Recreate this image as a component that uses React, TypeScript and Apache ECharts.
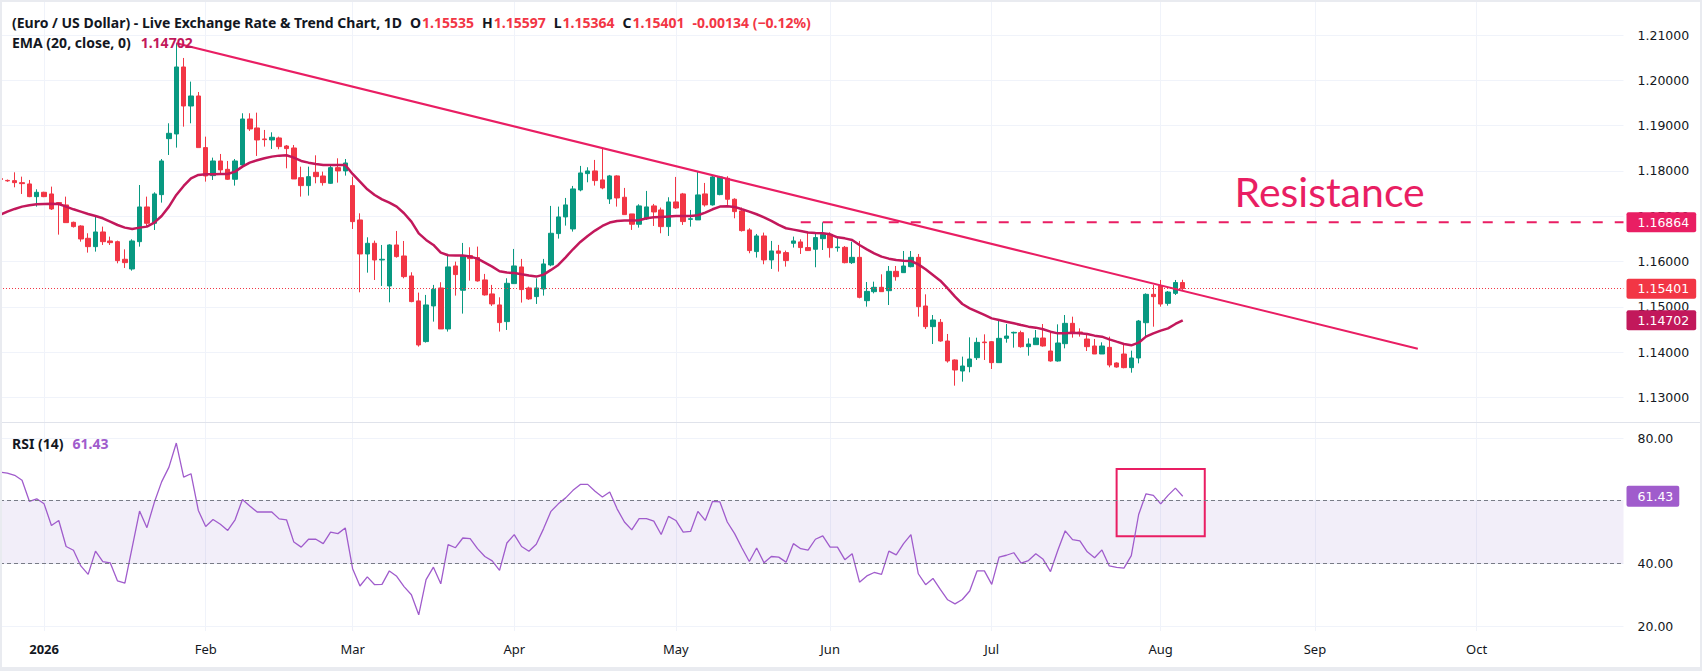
import React, { useEffect, useRef } from "react";
import * as echarts from "echarts";

// ---- data (index 0 = 2025-12-24, one slot per weekday) ----
const OPEN = [
  1.1783, 1.1779, 1.17785, 1.17741, 1.17712, 1.17432, 1.17528, 1.17491, 1.173, 1.17248,
  1.16865, 1.16784, 1.16512, 1.16328, 1.16652, 1.16453, 1.16438, 1.16049, 1.15835, 1.16438,
  1.17204, 1.16843, 1.17476, 1.18712, 1.18815, 1.20294, 1.19433, 1.19654, 1.18514, 1.17896,
  1.18219, 1.18035, 1.17815, 1.18131, 1.19146, 1.18948, 1.18705, 1.18683, 1.18727, 1.1855,
  1.18506, 1.17851, 1.17675, 1.17969, 1.17888, 1.17726, 1.18072, 1.17999, 1.17675, 1.16917,
  1.16166, 1.16402, 1.16034, 1.1546, 1.16365, 1.16122, 1.15681, 1.1513, 1.14232, 1.15019,
  1.15416, 1.14511, 1.15902, 1.15365, 1.1613, 1.16086, 1.15593, 1.15284, 1.15041, 1.14673,
  1.15512, 1.1588, 1.15416, 1.15225, 1.15394, 1.15924, 1.16616, 1.16984, 1.16719, 1.1758,
  1.1794, 1.17999, 1.17801, 1.17381, 1.17889, 1.17418, 1.1705, 1.16822, 1.1694, 1.17227,
  1.17138, 1.1677, 1.17315, 1.17492, 1.1693, 1.16918, 1.17492, 1.17249, 1.17477, 1.17837,
  1.17374, 1.17116, 1.16697, 1.16219, 1.16564, 1.16035, 1.16233, 1.16196, 1.16402, 1.16432,
  1.16307, 1.1627, 1.16504, 1.166, 1.16305, 1.16313, 1.15974, 1.16092, 1.15135, 1.15334,
  1.1543, 1.15356, 1.15783, 1.15754, 1.15886, 1.16092, 1.15018, 1.14562, 1.14657, 1.14245,
  1.13826, 1.13583, 1.13679, 1.13877, 1.14222, 1.1423, 1.13767, 1.14304, 1.14422, 1.14429,
  1.1412, 1.14164, 1.14311, 1.14024, 1.13804, 1.14186, 1.14635, 1.14444, 1.14289, 1.14135,
  1.13958, 1.14105, 1.1376, 1.13958, 1.13657, 1.1387, 1.14649, 1.15275, 1.15466, 1.15076,
  1.15297, 1.15535,
];
const HIGH = [
  1.1786, 1.1781, 1.17969, 1.17873, 1.178, 1.17594, 1.1754, 1.17653, 1.1731, 1.17432,
  1.1688, 1.168, 1.16623, 1.1699, 1.1677, 1.16549, 1.16461, 1.16269, 1.1649, 1.17689,
  1.17432, 1.17528, 1.18263, 1.19051, 1.20817, 1.20493, 1.19971, 1.19742, 1.18756, 1.18293,
  1.18374, 1.18219, 1.18263, 1.19272, 1.19272, 1.19286, 1.18904, 1.18852, 1.18756, 1.18572,
  1.18572, 1.18094, 1.18094, 1.18344, 1.17984, 1.18146, 1.18278, 1.18263, 1.17873, 1.17064,
  1.16534, 1.16461, 1.16365, 1.1638, 1.16674, 1.16453, 1.15762, 1.15313, 1.15262, 1.15483,
  1.15542, 1.16167, 1.15998, 1.1641, 1.16314, 1.16329, 1.15726, 1.15483, 1.1521, 1.1563,
  1.16277, 1.16057, 1.15446, 1.1563, 1.16057, 1.17227, 1.17212, 1.17403, 1.17668, 1.1811,
  1.1808, 1.18242, 1.18492, 1.17911, 1.17904, 1.17624, 1.1705, 1.17263, 1.17558, 1.17271,
  1.1719, 1.17418, 1.17867, 1.17514, 1.17138, 1.17985, 1.17734, 1.17911, 1.17889, 1.17882,
  1.17396, 1.1719, 1.16734, 1.16608, 1.16638, 1.16454, 1.16366, 1.16241, 1.1655, 1.16491,
  1.16638, 1.16624, 1.16864, 1.16644, 1.16563, 1.16342, 1.16438, 1.16453, 1.15547, 1.15555,
  1.15717, 1.15901, 1.15901, 1.16232, 1.16232, 1.16166, 1.15275, 1.14819, 1.14731, 1.144,
  1.1384, 1.139, 1.14326, 1.14318, 1.14392, 1.14245, 1.14723, 1.1462, 1.14451, 1.14473,
  1.14304, 1.14488, 1.1462, 1.14451, 1.14613, 1.14819, 1.14782, 1.14525, 1.14392, 1.14289,
  1.14216, 1.14341, 1.13774, 1.14171, 1.14032, 1.14709, 1.15297, 1.15481, 1.15592, 1.15348,
  1.15592, 1.15597,
];
const LOW = [
  1.1779, 1.1776, 1.17638, 1.17491, 1.1742, 1.17211, 1.1742, 1.17138, 1.16593, 1.16858,
  1.1675, 1.16438, 1.16196, 1.16218, 1.16365, 1.16365, 1.1596, 1.15857, 1.15798, 1.16328,
  1.1677, 1.16696, 1.173, 1.18352, 1.18514, 1.18977, 1.19051, 1.18514, 1.17763, 1.178,
  1.17947, 1.178, 1.17675, 1.18094, 1.18882, 1.1833, 1.18536, 1.18484, 1.18477, 1.18057,
  1.17822, 1.17432, 1.17454, 1.17726, 1.17675, 1.17712, 1.17741, 1.17896, 1.16718, 1.1532,
  1.15754, 1.15592, 1.1546, 1.15099, 1.16085, 1.15629, 1.151, 1.14121, 1.1421, 1.14673,
  1.14511, 1.14453, 1.15247, 1.1485, 1.15578, 1.15556, 1.15247, 1.15019, 1.14453, 1.14489,
  1.15512, 1.15093, 1.15152, 1.15063, 1.15247, 1.15895, 1.16505, 1.16792, 1.1666, 1.1755,
  1.17749, 1.17675, 1.17595, 1.17271, 1.17212, 1.17035, 1.16697, 1.16748, 1.16918, 1.16785,
  1.16623, 1.16564, 1.1716, 1.16807, 1.1677, 1.16918, 1.17212, 1.17234, 1.17462, 1.17249,
  1.16954, 1.1666, 1.16182, 1.16086, 1.15939, 1.15836, 1.15777, 1.15887, 1.16307, 1.16167,
  1.16233, 1.15873, 1.16254, 1.16085, 1.16217, 1.15959, 1.15945, 1.15187, 1.15003, 1.15297,
  1.15327, 1.1504, 1.15577, 1.15754, 1.15871, 1.14783, 1.1451, 1.14179, 1.1423, 1.13767,
  1.13259, 1.13348, 1.13554, 1.13826, 1.13826, 1.13627, 1.13767, 1.14208, 1.14098, 1.14098,
  1.13921, 1.14164, 1.1412, 1.13789, 1.13789, 1.14083, 1.14318, 1.14341, 1.14024, 1.13958,
  1.13958, 1.13664, 1.13657, 1.13642, 1.13546, 1.13752, 1.1434, 1.14561, 1.15003, 1.15025,
  1.1526, 1.15364,
];
const CLOSE = [
  1.1781, 1.1778, 1.17741, 1.17719, 1.17432, 1.17528, 1.17432, 1.1716, 1.17277, 1.16858,
  1.1677, 1.16497, 1.16328, 1.16652, 1.16438, 1.16416, 1.16019, 1.15975, 1.16453, 1.17204,
  1.16843, 1.17491, 1.18219, 1.1883, 1.20294, 1.19433, 1.19654, 1.18514, 1.17888, 1.18219,
  1.18021, 1.17815, 1.18219, 1.19146, 1.18926, 1.18683, 1.1869, 1.18742, 1.18536, 1.18492,
  1.17822, 1.17675, 1.17873, 1.17873, 1.17741, 1.18072, 1.17999, 1.18175, 1.1688, 1.16166,
  1.16402, 1.16034, 1.16049, 1.16365, 1.16108, 1.15666, 1.15115, 1.14158, 1.15041, 1.15387,
  1.14511, 1.1588, 1.15711, 1.1613, 1.16064, 1.15571, 1.15262, 1.15063, 1.14651, 1.15519,
  1.15902, 1.1538, 1.15174, 1.15416, 1.15946, 1.16623, 1.16984, 1.17249, 1.17602, 1.17955,
  1.17999, 1.17786, 1.17624, 1.17889, 1.17403, 1.17035, 1.16822, 1.17227, 1.17205, 1.17094,
  1.1677, 1.17315, 1.17182, 1.16881, 1.16944, 1.1747, 1.17249, 1.17867, 1.17867, 1.17374,
  1.17101, 1.16682, 1.16241, 1.16564, 1.16035, 1.16233, 1.16182, 1.1602, 1.16454, 1.16307,
  1.16241, 1.16528, 1.166, 1.16305, 1.1632, 1.15974, 1.16092, 1.15209, 1.15341, 1.1543,
  1.15334, 1.15783, 1.15665, 1.15901, 1.16092, 1.15003, 1.14562, 1.14709, 1.14245, 1.13804,
  1.13605, 1.13693, 1.13848, 1.14215, 1.14208, 1.13767, 1.14304, 1.14355, 1.14436, 1.1412,
  1.14179, 1.14311, 1.14135, 1.13804, 1.14201, 1.14635, 1.14414, 1.14429, 1.1412, 1.13958,
  1.14135, 1.13715, 1.13671, 1.13657, 1.1387, 1.14686, 1.15275, 1.15224, 1.15061, 1.15326,
  1.15535, 1.15401,
];
const EMA20 = [
  1.17027, 1.171, 1.1716, 1.17211, 1.17241, 1.17263, 1.1727, 1.17277, 1.1727, 1.17211,
  1.17152, 1.17101, 1.17049, 1.17005, 1.16954, 1.1688, 1.16806, 1.16748, 1.16718, 1.16748,
  1.1677, 1.16858, 1.17005, 1.17211, 1.17469, 1.17667, 1.17837, 1.1791, 1.17925, 1.17928,
  1.17932, 1.17932, 1.17984, 1.18094, 1.18182, 1.18234, 1.18278, 1.18315, 1.18337, 1.18344,
  1.18293, 1.18219, 1.18182, 1.18153, 1.18131, 1.18131, 1.18131, 1.18131, 1.17932, 1.17763,
  1.17594, 1.17469, 1.17373, 1.173, 1.17211, 1.17065, 1.16881, 1.1662, 1.16476, 1.16366,
  1.16196, 1.16138, 1.1613, 1.1613, 1.16108, 1.16064, 1.15976, 1.15887, 1.15784, 1.15755,
  1.15748, 1.15718, 1.15689, 1.15667, 1.15711, 1.15814, 1.15924, 1.16093, 1.1627, 1.16432,
  1.16564, 1.16682, 1.16785, 1.16859, 1.16896, 1.16903, 1.16903, 1.1691, 1.16954, 1.16976,
  1.16984, 1.16991, 1.17006, 1.17006, 1.17006, 1.17021, 1.17079, 1.17153, 1.17212, 1.17219,
  1.17205, 1.17153, 1.17102, 1.17043, 1.16976, 1.16896, 1.16807, 1.16734, 1.16704, 1.16674,
  1.16641, 1.1663, 1.16622, 1.166, 1.16533, 1.16511, 1.16475, 1.16364, 1.16269, 1.1618,
  1.16107, 1.16063, 1.16033, 1.16018, 1.16011, 1.15937, 1.15827, 1.15702, 1.15577, 1.15408,
  1.15224, 1.15062, 1.14966, 1.14893, 1.1482, 1.14745, 1.14709, 1.14672, 1.14635, 1.14598,
  1.14562, 1.1454, 1.14503, 1.14451, 1.14414, 1.14414, 1.14429, 1.14414, 1.144, 1.14363,
  1.14341, 1.14282, 1.1423, 1.14179, 1.14149, 1.14208, 1.14341, 1.14414, 1.14473, 1.14525,
  1.14621, 1.14702,
];
const RSI14 = [
  69.1, 68.8, 68.1, 66.5, 59.8, 60.6, 59.0, 52.1, 53.7, 45.4,
  44.2, 39.2, 36.5, 43.9, 40.6, 40.2, 34.4, 33.7, 45.2, 56.7,
  51.4, 59.4, 66.0, 70.7, 78.4, 67.5, 68.6, 56.9, 51.8, 54.0,
  52.5, 50.5, 53.9, 60.4, 58.3, 56.4, 56.4, 56.4, 54.2, 53.9,
  46.8, 45.2, 47.7, 47.7, 46.3, 50.0, 49.5, 51.3, 38.3, 32.8,
  35.7, 33.2, 33.3, 37.6, 35.9, 32.6, 30.0, 23.6, 34.8, 38.8,
  33.5, 46.0, 45.0, 48.1, 47.9, 44.7, 42.2, 40.8, 37.8, 46.5,
  49.2, 45.4, 43.9, 46.1, 51.1, 56.6, 59.0, 60.9, 63.3, 65.2,
  65.2, 63.0, 61.2, 62.8, 57.4, 53.2, 50.7, 54.3, 54.3, 53.5,
  49.2, 55.0, 53.7, 50.0, 50.2, 56.6, 53.7, 59.8, 59.6, 53.2,
  49.5, 44.9, 40.6, 44.9, 40.2, 42.2, 42.0, 40.4, 46.3, 44.7,
  44.2, 47.7, 48.8, 45.2, 45.2, 41.2, 43.1, 34.0, 36.0, 37.1,
  36.5, 43.9, 42.7, 46.3, 49.2, 36.7, 33.2, 35.2, 31.7, 28.4,
  27.1, 28.5, 31.2, 37.6, 37.6, 33.3, 42.0, 42.6, 43.4, 40.1,
  40.9, 43.1, 41.3, 37.4, 44.2, 50.4, 47.6, 47.2, 43.7, 41.8,
  44.3, 39.2, 38.7, 38.5, 42.5, 55.6, 62.2, 61.7, 59.0, 61.7,
  64.0, 61.43,
];

// axis / annotation values
const TOTAL_SLOTS = 222; // weekdays shown on the time axis (through late Oct)
const PRICE_MIN = 1.13;
const PRICE_MAX = 1.21;
const PRICE_STEP = 0.01;
const RSI_MIN = 20;
const RSI_MAX = 80;
const RSI_STEP = 20;
const RSI_BAND = [40, 60];
const TREND_LINE = [
  [24, 1.20817],
  [193, 1.14075],
];
const RESISTANCE_LEVEL = 1.16864;
const RESISTANCE_FROM = 109;
const RESISTANCE_TEXT_AT = [181, 1.17556];
const RSI_BOX = [
  [152, 70.1],
  [164, 48.7],
];
const MONTH_NAMES = ["Jan", "Feb", "Mar", "Apr", "May", "Jun", "Jul", "Aug", "Sep", "Oct", "Nov", "Dec"];

function buildDates(): string[] {
  const out: string[] = [];
  let t = Date.UTC(2025, 11, 24);
  while (out.length < TOTAL_SLOTS) {
    const d = new Date(t);
    const wd = d.getUTCDay();
    if (wd !== 0 && wd !== 6) out.push(d.toISOString().slice(0, 10));
    t += 86400000;
  }
  return out;
}

const TXT = "#131722";
const GRID_COLOR = "#f0f3fa";
const RED = "#f23645";
const GREEN = "#089981";
const PINK = "#e91e63";
const EMA_COLOR = "#c2185b";
const RSI_COLOR = "#a05ccc";
const AXIS_FONT = "DejaVu Sans";
const UI_FONT = "Noto Sans";
const CLEAR = "rgba(0,0,0,0)";

export default function App() {
  const ref = useRef<HTMLDivElement>(null);

  useEffect(() => {
    if (!ref.current) return;
    const chart = echarts.init(ref.current, null, { renderer: "svg" });

    const dates = buildDates();
    const lastSlot = TOTAL_SLOTS - 1;
    const monthStart = new Set<number>();
    for (let i = 1; i < dates.length; i++) {
      if (dates[i].slice(0, 7) !== dates[i - 1].slice(0, 7)) monthStart.add(i);
    }
    const isMonth = (i: number) => monthStart.has(i);

    const candles = OPEN.map((o, i) => [o, CLOSE[i], LOW[i], HIGH[i]]);
    const n = CLOSE.length;
    const lastClose = CLOSE[n - 1];
    const prevClose = CLOSE[n - 2];
    const chg = lastClose - prevClose;
    const pct = (chg / prevClose) * 100;
    const fmt5 = (v: number) => v.toFixed(5);
    const chgText = `${chg.toFixed(5)} (${pct.toFixed(2).replace("-", "\u2212")}%)`;
    const emaLast = EMA20[EMA20.length - 1];
    const rsiLast = RSI14[RSI14.length - 1];

    const box = (bg: string, text: string, padding: number[]) => ({
      show: true,
      position: "end",
      distance: 3,
      formatter: text,
      color: "#ffffff",
      backgroundColor: bg,
      padding,
      borderRadius: 2,
      fontFamily: AXIS_FONT,
      fontSize: 12.5,
    });

    // a horizontal segment between two category slots, drawn through the axes
    const hSeg = (from: number, to: number, v: number, lineStyle: any, label: any) => [
      { coord: [from, v], lineStyle, label },
      { coord: [to, v] },
    ];

    const gridLeft = 0;
    const gridWidth = 1623.5;

    const xAxes = [0, 1, 2, 3].map((g) => ({
      type: "category",
      gridIndex: g,
      data: dates,
      boundaryGap: false,
      axisLine: { show: false },
      axisTick: { show: false },
      axisLabel: {
        show: g === 2,
        interval: (i: number) => isMonth(i),
        margin: 11,
        color: TXT,
        fontFamily: UI_FONT,
        fontSize: 13,
        formatter: (v: string) => {
          const m = parseInt(v.slice(5, 7), 10) - 1;
          return m === 0 ? `{b|${v.slice(0, 4)}}` : MONTH_NAMES[m];
        },
        rich: { b: { fontWeight: "bold", fontFamily: UI_FONT, fontSize: 13, color: TXT } },
      },
      splitLine: {
        show: g === 0 || g === 2,
        interval: (i: number) => isMonth(i),
        lineStyle: { color: GRID_COLOR, width: 1 },
      },
    }));

    const legendRich = (extra: any) => ({
      t: { color: TXT, fontSize: 14, fontFamily: UI_FONT, lineHeight: 20 },
      ...extra,
    });
    const rs = (color: string, padLeft: number) => ({
      color,
      fontSize: 14,
      fontFamily: UI_FONT,
      lineHeight: 20,
      padding: [0, 0, 0, padLeft],
    });

    const option: any = {
      animation: false,
      backgroundColor: "#ffffff",
      textStyle: { fontFamily: UI_FONT },
      title: [
        {
          left: 12,
          top: 12,
          padding: 0,
          text:
            `{t|(Euro / US Dollar) - Live Exchange Rate & Trend Chart, 1D}` +
            `{k|O}{r|${fmt5(OPEN[n - 1])}}{k|H}{r|${fmt5(HIGH[n - 1])}}` +
            `{k|L}{r|${fmt5(LOW[n - 1])}}{k|C}{r|${fmt5(lastClose)}}{g|${chgText}}` +
            `\n{t|EMA (20, close, 0)}{e|${fmt5(emaLast)}}`,
          textStyle: {
            rich: legendRich({
              k: rs(TXT, 8),
              r: rs(RED, 1),
              g: rs(RED, 8),
              e: rs(EMA_COLOR, 10),
            }),
          },
        },
        {
          left: 12,
          top: 433,
          padding: 0,
          text: `{t|RSI (14)}{p|${rsiLast.toFixed(2)}}`,
          textStyle: { rich: legendRich({ p: rs(RSI_COLOR, 9) }) },
        },
      ],
      graphic: [
        {
          type: "line",
          silent: true,
          shape: { x1: 0, y1: 422.5, x2: 1702, y2: 422.5 },
          style: { stroke: "#e0e3eb", lineWidth: 1 },
        },
      ],
      grid: [
        { left: gridLeft, width: gridWidth, top: 2, height: 420 },
        { left: gridLeft, width: gridWidth, top: 35, height: 362.4 },
        { left: gridLeft, width: gridWidth, top: 423, height: 208 },
        { left: gridLeft, width: gridWidth, top: 438, height: 188.1 },
      ],
      xAxis: xAxes,
      yAxis: [
        { type: "value", gridIndex: 0, show: false, min: 0, max: 1 },
        {
          type: "value",
          gridIndex: 1,
          position: "right",
          min: PRICE_MIN,
          max: PRICE_MAX,
          interval: PRICE_STEP,
          axisLine: { show: false },
          axisTick: { show: false },
          splitLine: { lineStyle: { color: GRID_COLOR, width: 1 } },
          axisLabel: {
            formatter: (v: number) => v.toFixed(5),
            margin: 14,
            color: TXT,
            fontFamily: AXIS_FONT,
            fontSize: 12.5,
          },
        },
        { type: "value", gridIndex: 2, show: false, min: 0, max: 1 },
        {
          type: "value",
          gridIndex: 3,
          position: "right",
          min: RSI_MIN,
          max: RSI_MAX,
          interval: RSI_STEP,
          axisLine: { show: false },
          axisTick: { show: false },
          splitLine: { lineStyle: { color: GRID_COLOR, width: 1 } },
          axisLabel: {
            // the 60 level label sits under the current-value tag in the reference
            formatter: (v: number) => (Math.abs(v - RSI_BAND[1]) < 1e-6 ? "" : v.toFixed(2)),
            margin: 14,
            color: TXT,
            fontFamily: AXIS_FONT,
            fontSize: 12.5,
          },
        },
      ],
      series: [
        {
          type: "candlestick",
          name: "EUR/USD",
          xAxisIndex: 1,
          yAxisIndex: 1,
          data: candles,
          barWidth: 5,
          itemStyle: {
            color: GREEN,
            color0: RED,
            borderColor: GREEN,
            borderColor0: RED,
            borderWidth: 1,
          },
        },
        {
          type: "line",
          name: "EMA 20",
          xAxisIndex: 1,
          yAxisIndex: 1,
          data: EMA20,
          symbol: "none",
          showSymbol: false,
          lineStyle: { color: EMA_COLOR, width: 2.5 },
          markLine: {
            silent: true,
            symbol: ["none", "none"],
            data: [
              hSeg(0, lastSlot, lastClose, { color: RED, type: [1, 2], width: 1 }, box(RED, fmt5(lastClose), [4, 7, 3, 11])),
              hSeg(lastSlot - 10, lastSlot, emaLast, { color: CLEAR, width: 0 }, box(EMA_COLOR, fmt5(emaLast), [4, 7, 3, 11])),
            ],
          },
        },
        {
          type: "line",
          name: "Trend line",
          xAxisIndex: 1,
          yAxisIndex: 1,
          data: TREND_LINE,
          symbol: "none",
          showSymbol: false,
          lineStyle: { color: PINK, width: 2 },
        },
        {
          type: "line",
          name: "Resistance",
          xAxisIndex: 1,
          yAxisIndex: 1,
          data: [
            [RESISTANCE_FROM, RESISTANCE_LEVEL],
            [lastSlot, RESISTANCE_LEVEL],
          ],
          symbol: "none",
          showSymbol: false,
          lineStyle: { color: PINK, width: 2, type: [10, 12] },
          markLine: {
            silent: true,
            symbol: ["none", "none"],
            data: [
              hSeg(lastSlot - 10, lastSlot, RESISTANCE_LEVEL, { color: CLEAR, width: 0 }, box(PINK, fmt5(RESISTANCE_LEVEL), [4, 7, 3, 11])),
            ],
          },
          markPoint: {
            silent: true,
            symbol: "rect",
            symbolSize: [1, 1],
            itemStyle: { color: CLEAR },
            label: {
              show: true,
              position: "inside",
              formatter: "Resistance",
              color: PINK,
              fontSize: 41,
              fontFamily: "Lato",
            },
            data: [{ coord: RESISTANCE_TEXT_AT }],
          },
        },
        {
          type: "line",
          name: "RSI 14",
          xAxisIndex: 3,
          yAxisIndex: 3,
          data: RSI14,
          symbol: "none",
          showSymbol: false,
          lineStyle: { color: RSI_COLOR, width: 1.3 },
          markArea: {
            silent: true,
            label: { show: false },
            data: [
              [
                { coord: [0, RSI_BAND[0]], itemStyle: { color: "rgba(126,87,194,0.1)" } },
                { coord: [lastSlot, RSI_BAND[1]] },
              ],
              [
                {
                  coord: RSI_BOX[0],
                  itemStyle: { color: CLEAR, borderColor: PINK, borderWidth: 2 },
                },
                { coord: RSI_BOX[1] },
              ],
            ],
          },
          markLine: {
            silent: true,
            symbol: ["none", "none"],
            label: { show: false },
            data: [
              hSeg(0, lastSlot, RSI_BAND[1], { color: "#787b86", type: [4, 3], width: 1 }, { show: false }),
              hSeg(0, lastSlot, RSI_BAND[0], { color: "#787b86", type: [4, 3], width: 1 }, { show: false }),
              hSeg(lastSlot - 10, lastSlot, rsiLast, { color: CLEAR, width: 0 }, box(RSI_COLOR, rsiLast.toFixed(2), [4, 6, 4, 11])),
            ],
          },
        },
      ],
    };

    chart.setOption(option);
    return () => chart.dispose();
  }, []);

  return (
    <div style={{ position: "fixed", left: 0, top: 0, width: 1702, height: 671, background: "#ffffff" }}>
      <div ref={ref} style={{ position: "absolute", left: 0, top: 0, width: 1702, height: 671 }} />
      <div
        style={{
          position: "absolute",
          left: 0,
          top: 0,
          width: 1702,
          height: 671,
          boxSizing: "border-box",
          borderStyle: "solid",
          borderColor: "#e9ebf0",
          borderWidth: "2px 2px 4px 2px",
          pointerEvents: "none",
        }}
      />
    </div>
  );
}
